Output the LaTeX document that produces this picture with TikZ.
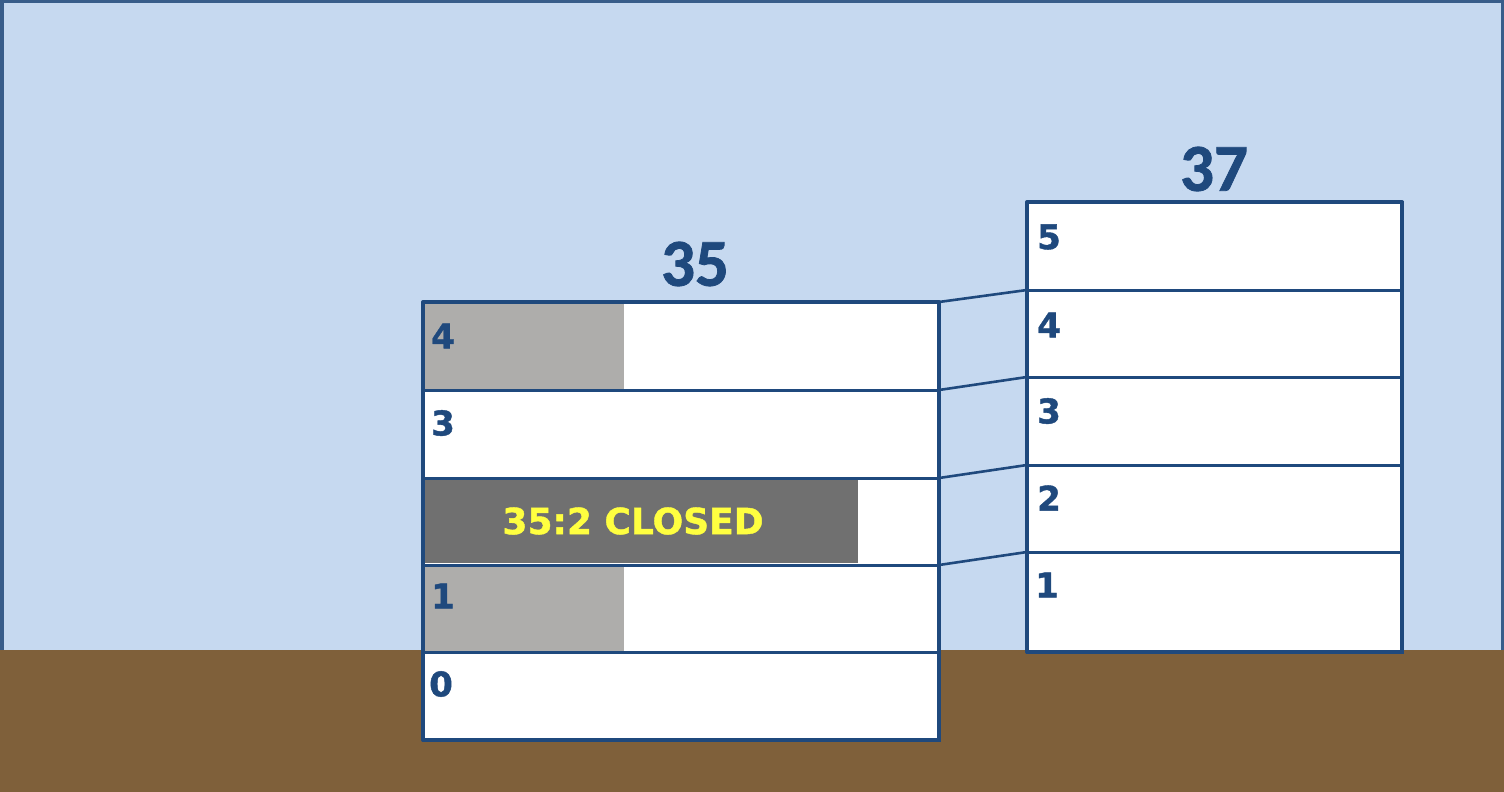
\documentclass[tikz,border=0pt]{standalone}
\usepackage{fontspec}
\newfontfamily\labfont{DejaVu Sans Bold}[FakeBold=1.2]
\newfontfamily\titlefont{Carlito Bold}[FakeBold=1.2]
\definecolor{sky}{RGB}{198,217,240}
\definecolor{frame}{RGB}{56,93,138}
\definecolor{ground}{RGB}{127,96,58}
\definecolor{dblue}{RGB}{31,73,125}
\definecolor{lgray}{RGB}{174,173,171}
\definecolor{dgray}{RGB}{112,112,112}
\definecolor{yel}{RGB}{255,255,64}
\tikzset{
  rowL/.style={draw=dblue, fill=white, line width=3pt, minimum width=516pt, anchor=north west, inner sep=0pt, outer sep=0pt},
  rowR/.style={draw=dblue, fill=white, line width=3pt, minimum width=375pt, anchor=north west, inner sep=0pt, outer sep=0pt},
  outline/.style={draw=dblue, line width=4pt, line join=round},
  conn/.style={draw=dblue, line width=2.6pt},
  lab/.style={text=dblue, font=\labfont\fontsize{34}{40}\selectfont, inner sep=0pt, anchor=west},
  ttl/.style={text=dblue, font=\titlefont\fontsize{67}{70}\selectfont, inner sep=0pt},
  closedtxt/.style={text=yel, font=\labfont\fontsize{36}{40}\selectfont, inner sep=0pt}
}
\begin{document}
\begin{tikzpicture}[x=1pt,y=-1pt]
\useasboundingbox (0,0) rectangle (1504,792);
% sky and frame
\fill[sky] (0,0) rectangle (1504,792);
\draw[frame, line width=7pt] (0,0) rectangle (1504,792);
% ground
\fill[ground] (0,650) rectangle (1504,792);

% building 35 rows
\node[rowL, minimum height=88pt] (a4) at (423,302) {};
\node[rowL, minimum height=88pt] (a3) at (423,390) {};
\node[rowL, minimum height=87pt] (a2) at (423,478) {};
\node[rowL, minimum height=87pt] (a1) at (423,565) {};
\node[rowL, minimum height=88pt] (a0) at (423,652) {};

% fills
\fill[lgray] (425,303.6) rectangle (624,388.5);
\fill[lgray] (425,566.6) rectangle (624,650.5);
\fill[dgray] (425,479.6) rectangle (858,563);

% building 37 rows
\node[rowR, minimum height=88pt] (b5) at (1027,202) {};
\node[rowR, minimum height=87pt] (b4) at (1027,290) {};
\node[rowR, minimum height=88pt] (b3) at (1027,377) {};
\node[rowR, minimum height=87pt] (b2) at (1027,465) {};
\node[rowR, minimum height=100pt] (b1) at (1027,552) {};

% outlines
\draw[outline] (a4.north west) rectangle (a0.south east);
\draw[outline] (b5.north west) rectangle (b1.south east);

% connectors
\draw[conn] (a4.north east) -- (b4.north west);
\draw[conn] (a3.north east) -- (b3.north west);
\draw[conn] (a2.north east) -- (b2.north west);
\draw[conn] (a1.north east) -- (b1.north west);

% titles
\node[ttl] (t35) at (695,264) {35};
\node[ttl] (t37) at (1214,169) {37};

% labels building 35
\node[lab] (l4) at (431,336) {4};
\node[lab] (l3) at (431,423) {3};
\node[lab] (l1) at (431,596) {1};
\node[lab] (l0) at (429,684) {0};
\node[closedtxt] (closed) at (633,521) {35:2 CLOSED};

% labels building 37
\node[lab] (r5) at (1037,237) {5};
\node[lab] (r4) at (1037,325) {4};
\node[lab] (r3) at (1037,411) {3};
\node[lab] (r2) at (1037,498) {2};
\node[lab] (r1) at (1035,585) {1};
\end{tikzpicture}
\end{document}
